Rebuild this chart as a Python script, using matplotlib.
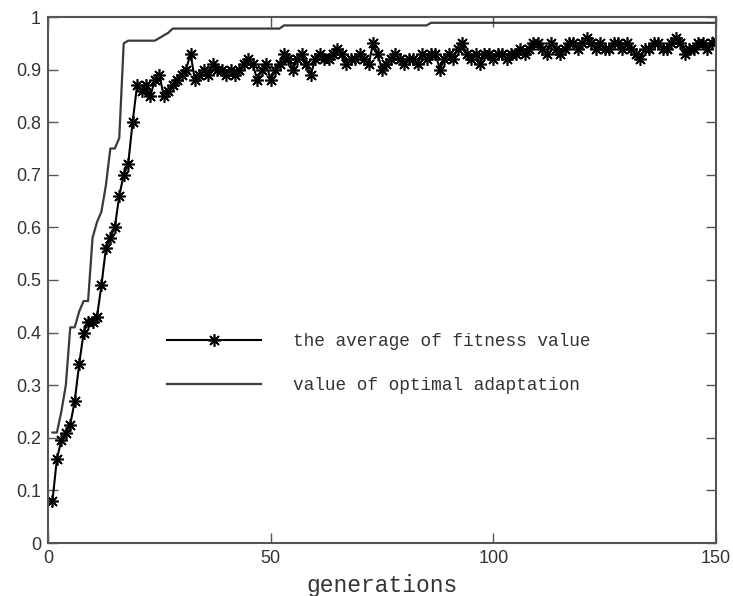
import matplotlib
matplotlib.use("Agg")
import matplotlib.pyplot as plt
import numpy as np

generations = list(range(1, 151))

avg_fitness = [
    0.08, 0.16, 0.195, 0.21, 0.225, 0.27, 0.34, 0.40, 0.42, 0.42,
    0.43, 0.49, 0.56, 0.58, 0.60, 0.66, 0.70, 0.72, 0.80, 0.87,
    0.86, 0.87, 0.85, 0.88, 0.89, 0.85, 0.86, 0.87, 0.88, 0.89,
    0.90, 0.93, 0.88, 0.89, 0.90, 0.89, 0.91, 0.90, 0.90, 0.89,
    0.90, 0.89, 0.90, 0.91, 0.92, 0.91, 0.88, 0.90, 0.91, 0.88,
    0.90, 0.91, 0.93, 0.92, 0.90, 0.92, 0.93, 0.91, 0.89, 0.92,
    0.93, 0.92, 0.92, 0.93, 0.94, 0.93, 0.91, 0.92, 0.92, 0.93,
    0.92, 0.91, 0.95, 0.93, 0.90, 0.91, 0.92, 0.93, 0.92, 0.91,
    0.92, 0.92, 0.91, 0.93, 0.92, 0.93, 0.93, 0.90, 0.92, 0.93,
    0.92, 0.94, 0.95, 0.93, 0.92, 0.93, 0.91, 0.93, 0.93, 0.92,
    0.93, 0.93, 0.92, 0.93, 0.93, 0.94, 0.93, 0.94, 0.95, 0.95,
    0.94, 0.93, 0.95, 0.94, 0.93, 0.94, 0.95, 0.95, 0.94, 0.95,
    0.96, 0.95, 0.94, 0.95, 0.94, 0.94, 0.95, 0.95, 0.94, 0.95,
    0.94, 0.93, 0.92, 0.94, 0.94, 0.95, 0.95, 0.94, 0.94, 0.95,
    0.96, 0.95, 0.93, 0.94, 0.94, 0.95, 0.95, 0.94, 0.95, 0.955,
]

optimal = (
    [0.21, 0.21, 0.25, 0.30, 0.41, 0.41, 0.44, 0.46, 0.46, 0.58,
     0.61, 0.63, 0.68, 0.75, 0.75, 0.77, 0.95]
    + [0.955] * 7
    + [0.96, 0.965, 0.97]
    + [0.978] * 25
    + [0.984] * 33
    + [0.989] * 65
)

x_ticks = [0, 50, 100, 150]
y_ticks = [0, 0.1, 0.2, 0.3, 0.4, 0.5, 0.6, 0.7, 0.8, 0.9, 1]
y_tick_labels = ["0", "0.1", "0.2", "0.3", "0.4", "0.5", "0.6", "0.7", "0.8", "0.9", "1"]
legend_labels = ["the average of fitness value", "value of optimal adaptation"]
x_label = "generations"

fig = plt.figure(figsize=(7.33, 5.96), dpi=100)
ax = fig.add_axes([48 / 733, 53 / 596, 668 / 733, 526 / 596])

ax.plot(generations, avg_fitness, color="black", linewidth=1.5,
        marker=(8, 2, 0), markersize=9, markeredgewidth=1.2,
        markeredgecolor="black", label=legend_labels[0])
ax.plot(generations, optimal, color="#3a3a3a", linewidth=1.6,
        label=legend_labels[1])

ax.set_xlim(0, 150)
ax.set_ylim(0, 1)
ax.set_xticks(x_ticks)
ax.set_yticks(y_ticks)
ax.set_yticklabels(y_tick_labels)

tick_font = ["Liberation Sans Narrow", "Liberation Sans", "DejaVu Sans"]
for lab in ax.get_xticklabels() + ax.get_yticklabels():
    lab.set_family(tick_font)
    lab.set_fontsize(13)
    lab.set_color("#333333")

ax.tick_params(direction="in", length=7, width=1.0, color="#555555",
               top=True, right=True, pad=5)
for sp in ax.spines.values():
    sp.set_color("#555555")
    sp.set_linewidth(1.5)

ax.set_xlabel(x_label, family=["Liberation Mono", "DejaVu Sans Mono"],
              fontsize=16.5, color="#333333", labelpad=5)

leg = ax.legend(loc="center left", bbox_to_anchor=(0.178, 0.341),
                frameon=False, handlelength=5.3, handletextpad=1.8,
                labelspacing=1.55, borderpad=0, borderaxespad=0,
                numpoints=1,
                prop={"family": ["Liberation Mono", "DejaVu Sans Mono"], "size": 12.8})
for t in leg.get_texts():
    t.set_color("#333333")

fig.savefig("out.png", dpi=100)
